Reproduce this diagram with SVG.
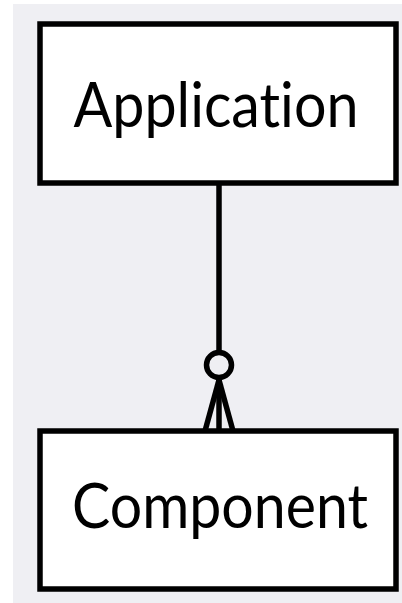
<svg xmlns="http://www.w3.org/2000/svg" width="402" height="603" viewBox="0 0 402 603">
  <style>
    .box { fill: #ffffff; stroke: #000000; stroke-width: 5.5; }
    .label { font-family: Lato, "Open Sans", "Liberation Sans", sans-serif; font-size: 62px; fill: #000000; text-anchor: middle; font-variant-ligatures: none; font-feature-settings: "liga" 0, "clig" 0; }
    .conn { fill: none; stroke: #000000; stroke-width: 5.5; stroke-linejoin: miter; }
  </style>
  <rect x="0" y="0" width="402" height="603" fill="#ffffff"/>
  <rect x="13" y="4" width="389" height="599" fill="#efeff3"/>
  <g id="connectors">
    <line class="conn" x1="219" y1="184" x2="219" y2="352"/>
    <circle class="conn" cx="219" cy="365" r="12.5"/>
    <line class="conn" x1="219" y1="378" x2="219" y2="431"/>
    <line class="conn" x1="219" y1="380" x2="205" y2="431"/>
    <line class="conn" x1="219" y1="380" x2="233" y2="431"/>
  </g>
  <g id="application">
    <rect class="box" x="40" y="24" width="356" height="159"/>
    <text class="label" x="216" y="127" textLength="285" lengthAdjust="spacingAndGlyphs">Application</text>
  </g>
  <g id="component">
    <rect class="box" x="40" y="431" width="356" height="158"/>
    <text class="label" x="220" y="528" textLength="296" lengthAdjust="spacingAndGlyphs">Component</text>
  </g>
</svg>
